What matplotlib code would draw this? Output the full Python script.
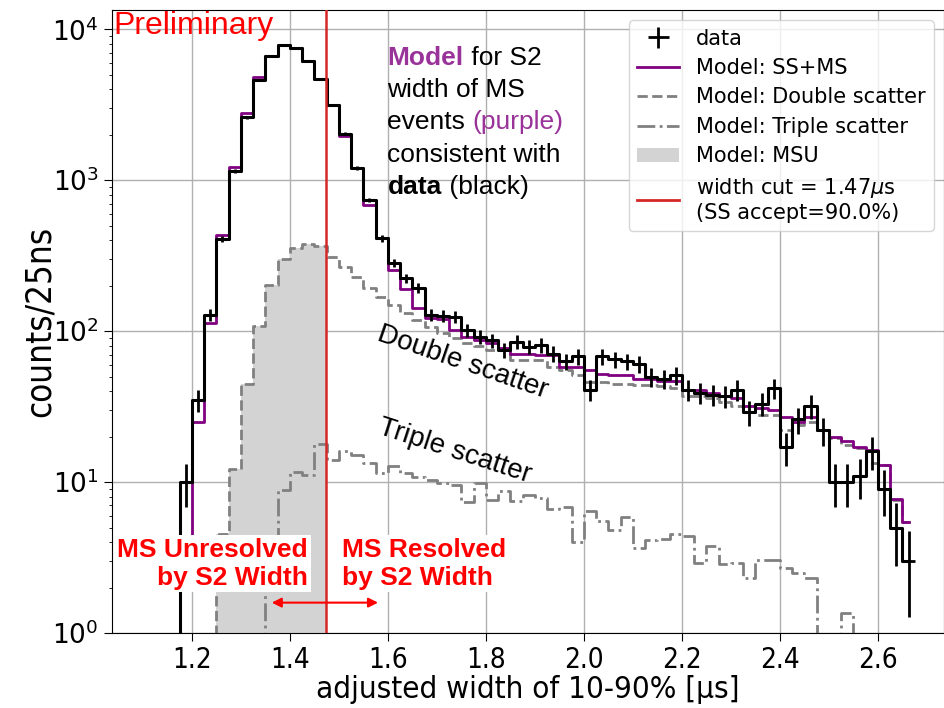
import matplotlib
matplotlib.use("Agg")
import matplotlib.pyplot as plt
import numpy as np
from matplotlib.lines import Line2D
from matplotlib.patches import Patch
from matplotlib.offsetbox import TextArea, HPacker, AnnotationBbox

# 25 ns bins, values read at bin centres (first bin is empty)
BIN_WIDTH = 0.025
FIRST_CENTER = 1.1625
CUT = 1.474

data_counts = [
    0, 10, 35, 128, 409, 1150, 2610, 4610, 6650, 7870,
    7560, 6170, 4690, 3155, 2028, 1200, 741, 413, 284, 224,
    194, 128, 127, 125, 102, 92, 87, 75, 85, 79,
    81, 71, 63, 68, 41, 68, 65, 63, 61, 50,
    48, 51, 41, 39, 38, 37, 41, 29, 33, 42,
    17, 26, 32, 22, 10, 10, 11, 16, 9, 5,
    3,
]
model_total = [
    0.5, 3, 25, 114, 434, 1220, 2775, 4850, 6650, 7870,
    7560, 6170, 4690, 3155, 1975, 1200, 686, 413, 255, 190,
    142, 122, 120, 102, 92, 87, 83, 77, 71, 71,
    70, 70, 58, 58, 55, 52, 51, 51, 48, 48,
    47, 47, 41, 41, 39, 37, 36, 32, 31, 30,
    27, 25, 27, 22, 20, 18.6, 17, 16.4, 13, 7.7,
    5.4,
]
model_double = [
    0, 0, 0, 0, 4.5, 12.2, 44.6, 109, 203, 300,
    355, 379, 367, 312, 268, 230, 194, 169, 149, 131,
    119, 107, 97, 90, 83, 80, 75, 75, 64, 64,
    64, 58, 55, 51, 46, 46, 45, 45, 44, 44,
    43, 42, 37, 37, 36, 34, 32, 29, 28, 28,
    22, 24, 25, 22, 19.6, 17.7, 16.9, 13.4, 13, 7.6,
    5.4,
]
model_triple = [
    0, 0, 0, 0, 0, 0, 0, 0, 3, 8.9,
    11.7, 11.2, 18, 14.1, 16, 15.2, 13.4, 11.5, 12.7, 11.5,
    10.8, 10.3, 9.8, 9.6, 7.4, 9.8, 7.6, 8.7, 7.5, 8.2,
    7.9, 6.6, 6.8, 4.0, 6.4, 5.5, 4.8, 5.9, 3.65, 4.15,
    4.2, 4.5, 4.4, 2.9, 3.8, 2.85, 2.9, 2.3, 3.06, 3.06,
    2.7, 2.5, 2.3, 0, 0, 1.36, 0, 0, 0, 0,
    0,
]

XTICKS = [1.2, 1.4, 1.6, 1.8, 2.0, 2.2, 2.4, 2.6]

PURPLE = "purple"
TXT_PURPLE = "#993399"
ANNOT_FONT = "Liberation Sans"

plt.rcParams["font.family"] = "DejaVu Sans"

data = np.asarray(data_counts, dtype=float)
centers = FIRST_CENTER + BIN_WIDTH * np.arange(len(data))
msu = np.where(centers < CUT, np.asarray(model_double, dtype=float), 0.0)

fig = plt.figure(figsize=(9.45, 7.08), dpi=100)
ax = fig.add_axes([0.1185, 0.1059, 0.8805, 0.880])

ax.fill_between(centers, msu, step="mid", color="lightgray", lw=0, zorder=1)
ax.step(centers, model_double, where="mid", color="gray", ls="--", lw=2, zorder=2)
ax.step(centers, model_triple, where="mid", color="gray", ls="-.", lw=2, zorder=2)
ax.step(centers, model_total, where="mid", color=PURPLE, lw=2, zorder=3)
ax.step(centers, data, where="mid", color="black", lw=2.2, zorder=4)
nz = data > 0
h_data = ax.errorbar(centers[nz], data[nz], xerr=BIN_WIDTH / 2, yerr=np.sqrt(data[nz]),
                     fmt="none", ecolor="black", elinewidth=2, zorder=5)
ax.axvline(CUT, color="tab:red", lw=1.8, zorder=6)

ax.set_yscale("log")
ax.set_ylim(1, 13430)
ax.set_xlim(1.037, 2.735)
ax.set_xticks(XTICKS)
ax.set_xticklabels([f"{t:.1f}" for t in XTICKS], fontsize=20, fontstretch="condensed")
ax.tick_params(axis="y", labelsize=19, length=6)
ax.tick_params(axis="x", length=6)
ax.grid(True, which="major", color="#b0b0b0", lw=1)
ax.set_axisbelow(True)

ax.set_xlabel("adjusted width of 10-90% [µs]", fontsize=22.5, fontstretch="condensed")
ax.xaxis.set_label_coords(0.5, -0.068)
ax.set_ylabel("counts/25ns", fontsize=25, fontstretch="condensed")
ax.yaxis.set_label_coords(-0.066, 0.5)

handles = [
    h_data,
    Line2D([], [], color=PURPLE, lw=2),
    Line2D([], [], color="gray", ls="--", lw=2),
    Line2D([], [], color="gray", ls="-.", lw=2),
    Patch(facecolor="lightgray", edgecolor="none"),
    Line2D([], [], color="tab:red", lw=2),
]
labels = [
    "data",
    "Model: SS+MS",
    "Model: Double scatter",
    "Model: Triple scatter",
    "Model: MSU",
    "width cut = 1.47$\\mu$s\n(SS accept=90.0%)",
]
ax.legend(handles, labels, loc="upper right", prop={"family": "DejaVu Sans", "size": 15},
          labelspacing=0.45, borderaxespad=0.5)

# slide annotations
ax.text(0.002, 0.998, "Preliminary", transform=ax.transAxes, ha="left", va="top",
        color="red", fontsize=23, family=ANNOT_FONT, zorder=10)


def text_line(parts, y):
    areas = [TextArea(s, textprops=dict(color=c, fontweight=w, fontsize=19, family=ANNOT_FONT))
             for s, c, w in parts]
    box = HPacker(children=areas, align="baseline", pad=0, sep=0)
    ab = AnnotationBbox(box, (0.331, y), xycoords="axes fraction", box_alignment=(0, 0.5),
                        frameon=False, pad=0)
    ax.add_artist(ab)


text_line([("Model", TXT_PURPLE, "bold"), (" for S2", "black", "normal")], 0.923)
text_line([("width of MS", "black", "normal")], 0.872)
text_line([("events ", "black", "normal"), ("(purple)", TXT_PURPLE, "normal")], 0.820)
text_line([("consistent with", "black", "normal")], 0.767)
text_line([("data", "black", "bold"), (" (black)", "black", "normal")], 0.716)

ax.text(1.753, 61.7, "Double scatter", rotation=-19, rotation_mode="anchor",
        ha="center", va="center", fontsize=20, family=ANNOT_FONT, zorder=10)
ax.text(1.737, 15.9, "Triple scatter", rotation=-18, rotation_mode="anchor",
        ha="center", va="center", fontsize=20, family=ANNOT_FONT, zorder=10)

box_kw = dict(facecolor="white", edgecolor="none", pad=2)
ax.text(1.4367, 2.88, "MS Unresolved\nby S2 Width", ha="right", va="center",
        multialignment="right", color="red", fontsize=19, fontweight="bold",
        family=ANNOT_FONT, linespacing=1.2, bbox=box_kw, zorder=10)
ax.text(1.506, 2.88, "MS Resolved\nby S2 Width", ha="left", va="center",
        color="red", fontsize=19, fontweight="bold",
        family=ANNOT_FONT, linespacing=1.2, bbox=box_kw, zorder=10)
ax.annotate("", xy=(1.363, 1.59), xytext=(1.58, 1.59),
            arrowprops=dict(arrowstyle="<|-|>", color="red", lw=1.5, mutation_scale=14,
                            shrinkA=0, shrinkB=0), zorder=11)

fig.savefig("out.png", dpi=100)
